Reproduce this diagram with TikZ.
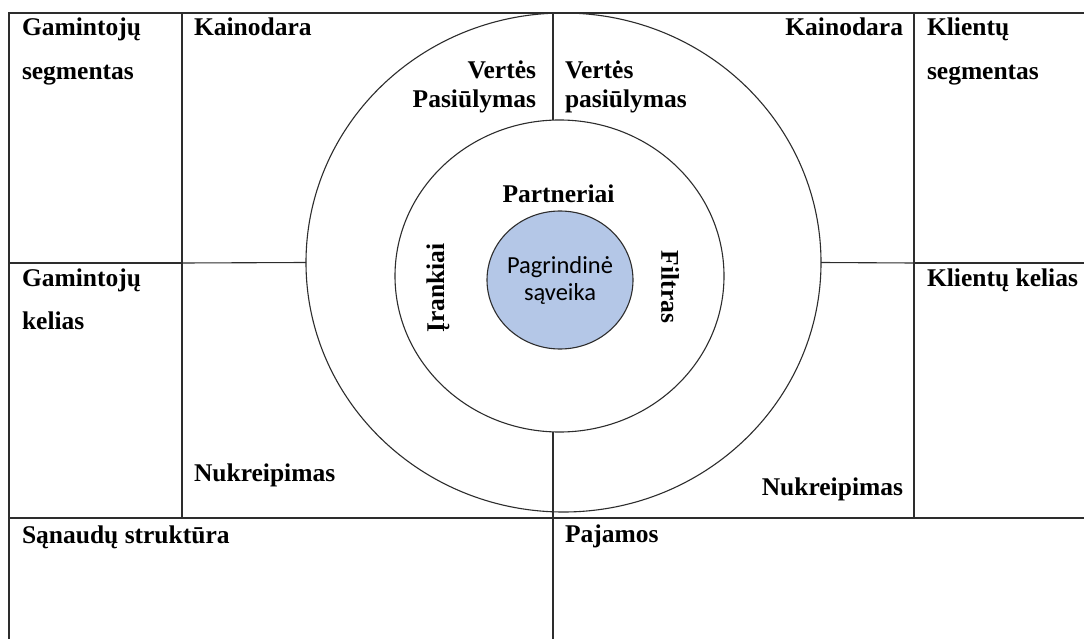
\documentclass[tikz,border=0pt]{standalone}
\usepackage{fontspec}
\setmainfont{Liberation Serif}
\newfontfamily\calfont{Carlito}
\usetikzlibrary{shapes.geometric}
\definecolor{corefill}{RGB}{180,199,231}
\definecolor{linecol}{RGB}{45,45,45}
\begin{document}
\begin{tikzpicture}[x=1pt,y=-1pt,
  lbl/.style={font=\fontsize{25.5}{29}\selectfont\bfseries, inner sep=0, outer sep=0},
  corelbl/.style={font=\calfont\fontsize{24.5}{27}\selectfont, inner sep=0, outer sep=0},
  grid/.style={draw=linecol, line width=1.4pt},
  thin/.style={draw=linecol, line width=1.1pt},
  ring/.style={draw=linecol, line width=1.1pt, ellipse, inner sep=0, outer sep=0},
]
\useasboundingbox (0,0) rectangle (1084,639);
\fill[white] (0,0) rectangle (1084,639);
% rings
\node[ring, minimum width=515pt, minimum height=499pt] (outer) at (563.5,262.5) {};
\node[ring, minimum width=329pt, minimum height=312pt] (inner) at (559.5,276) {};
\node[ring, fill=corefill, minimum width=146pt, minimum height=138pt] (core) at (560,280) {};
% table lines
\coordinate (tl) at (9,13);
\coordinate (bl) at (9,639);
\coordinate (tr) at (1084,13);
\draw[grid] (bl) -- (tl) -- (tr);
\draw[grid] (182,13) -- (182,518);
\draw[grid] (914,13) -- (914,518);
\draw[grid] (9,518) -- (1084,518);
\draw[grid] (9,263) -- (182,263);
\draw[grid] (914,263) -- (1084,263);
\draw[thin] (182,263) -- (outer.west);
\draw[thin] (outer.east) -- (914,263);
\draw[thin] (553,13) -- (553,120);
\draw[thin] (553,432) -- (553,639);
% labels
\node[lbl, anchor=base west] (gs1) at (22,36) {Gamintojų};
\node[lbl, anchor=base west] (gs2) at (22,80) {segmentas};
\node[lbl, anchor=base west] (k1) at (194,36) {Kainodara};
\node[lbl, anchor=base east] (v1) at (536,79) {Vertės};
\node[lbl, anchor=base east] (p1) at (536,108) {Pasiūlymas};
\node[lbl, anchor=base west] (v2) at (565,79) {Vertės};
\node[lbl, anchor=base west] (p2) at (565,108) {pasiūlymas};
\node[lbl, anchor=base east] (k2) at (903,36) {Kainodara};
\node[lbl, anchor=base west] (ks1) at (927,36) {Klientų};
\node[lbl, anchor=base west] (ks2) at (927,80) {segmentas};
\node[lbl, anchor=base] (partn) at (558.5,203) {Partneriai};
\node[lbl, anchor=base west] (gk1) at (22,286) {Gamintojų};
\node[lbl, anchor=base west] (gk2) at (22,329) {kelias};
\node[lbl, anchor=base west] (kk) at (927,286) {Klientų kelias};
\node[lbl, anchor=base west] (n1) at (194,481) {Nukreipimas};
\node[lbl, anchor=base east] (n2) at (903,495) {Nukreipimas};
\node[lbl, anchor=base west] (sa) at (22,543) {Sąnaudų struktūra};
\node[lbl, anchor=base west] (pa) at (565,542) {Pajamos};
\node[lbl, rotate=90] (ir) at (438,288) {Įrankiai};
\node[lbl, rotate=-90] (fi) at (670,287) {Filtras};
\node[corelbl, anchor=base] (c1) at (560,273) {Pagrindinė};
\node[corelbl, anchor=base] (c2) at (560,300) {sąveika};
\end{tikzpicture}
\end{document}
